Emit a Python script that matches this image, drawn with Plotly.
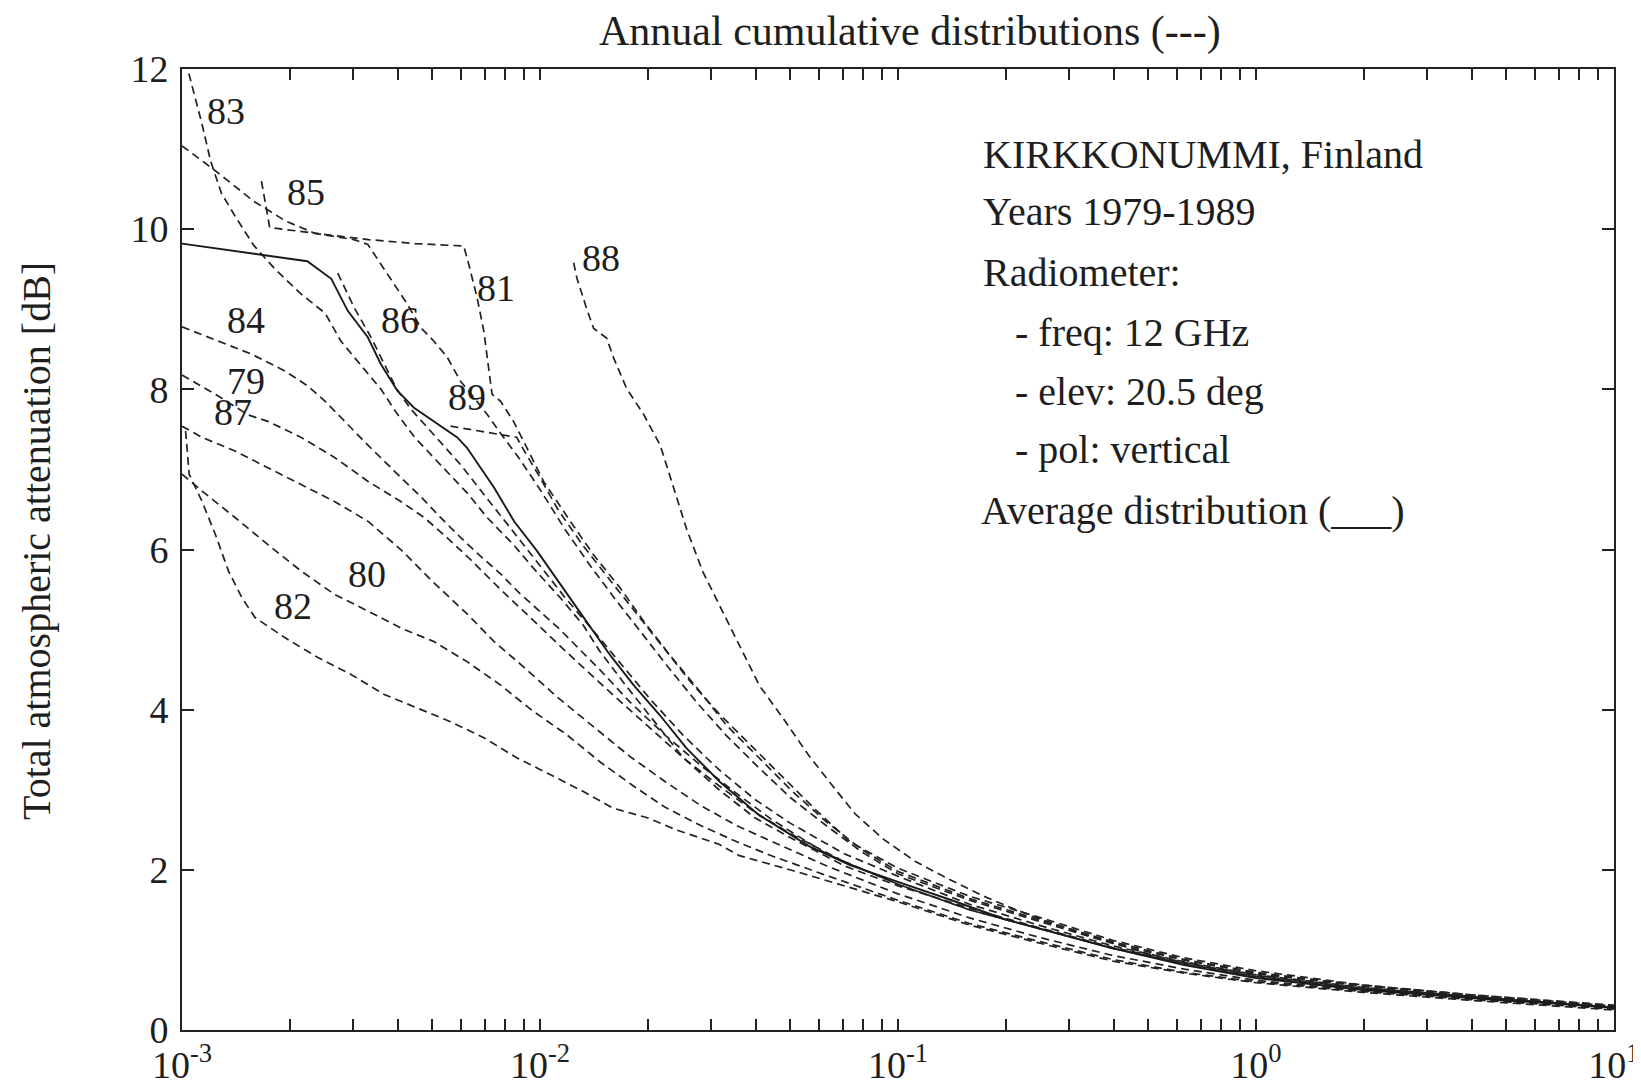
import plotly.graph_objects as go

# ---- data: time percentage given as log10(%), attenuation in dB ----
lg_avg = [-3.0, -2.76, -2.65, -2.583, -2.537, -2.481, -2.444, -2.398, -2.352, -2.231, -2.204, -2.128, -2.072, -2.008, -1.943, -1.87, -1.804, -1.739, -1.665, -1.591, -1.498, -1.387, -1.25, -1.134, -1.0, -0.85, -0.7, -0.55, -0.4, -0.2, 0.0, 0.3, 0.6, 1.0]
db_avg = [9.82, 9.67, 9.6, 9.38, 8.98, 8.65, 8.31, 7.98, 7.77, 7.4, 7.27, 6.77, 6.35, 5.98, 5.56, 5.1, 4.68, 4.31, 3.93, 3.52, 3.1, 2.68, 2.3, 2.06, 1.85, 1.62, 1.38, 1.2, 1.02, 0.81, 0.65, 0.5, 0.4, 0.28]

lg_83 = [-2.99, -2.944, -2.92, -2.89, -2.85, -2.8, -2.74, -2.67, -2.6, -2.556, -2.5, -2.444, -2.4, -2.35, -2.27, -2.2, -2.148, -2.074, -2.019, -1.944, -1.88, -1.833, -1.76, -1.68, -1.6, -1.5, -1.4, -1.3, -1.15, -1.0, -0.8, -0.6, -0.4, -0.2, 0.0, 0.3, 0.6, 1.0]
db_83 = [12.1, 11.31, 10.85, 10.45, 10.15, 9.8, 9.5, 9.2, 8.95, 8.6, 8.3, 8.0, 7.7, 7.4, 7.02, 6.69, 6.4, 6.06, 5.77, 5.4, 5.06, 4.73, 4.3, 3.85, 3.4, 3.0, 2.65, 2.4, 2.05, 1.8, 1.52, 1.27, 1.03, 0.84, 0.68, 0.52, 0.42, 0.29]

lg_81 = [-3.0, -2.907, -2.8, -2.71, -2.63, -2.48, -2.35, -2.213, -2.199, -2.176, -2.157, -2.144, -2.134, -2.11, -2.074, -2.04, -1.99, -1.915, -1.85, -1.776, -1.71, -1.637, -1.554, -1.48, -1.387, -1.295, -1.2, -1.1, -1.0, -0.8, -0.6, -0.4, -0.2, 0.0, 0.3, 0.6, 1.0]
db_81 = [11.04, 10.73, 10.35, 10.1, 9.95, 9.87, 9.82, 9.79, 9.56, 9.15, 8.73, 8.31, 7.94, 7.85, 7.6, 7.3, 6.85, 6.35, 5.93, 5.52, 5.1, 4.68, 4.23, 3.81, 3.39, 2.98, 2.6, 2.25, 1.98, 1.64, 1.37, 1.1, 0.88, 0.72, 0.55, 0.43, 0.3]

lg_85 = [-2.778, -2.755, -2.648, -2.52, -2.481, -2.444, -2.407, -2.37, -2.333, -2.296, -2.259, -2.222, -2.185, -2.148, -2.11, -2.06, -2.0, -1.93, -1.86, -1.79, -1.72, -1.64, -1.56, -1.48, -1.39, -1.3, -1.2, -1.1, -1.0, -0.8, -0.6, -0.4, -0.2, 0.0, 0.3, 0.6, 1.0]
db_85 = [10.6, 10.02, 9.96, 9.87, 9.81, 9.56, 9.31, 9.06, 8.77, 8.6, 8.4, 8.1, 7.9, 7.69, 7.45, 7.15, 6.75, 6.25, 5.8, 5.38, 4.98, 4.52, 4.08, 3.68, 3.28, 2.9, 2.55, 2.22, 1.95, 1.62, 1.35, 1.08, 0.87, 0.71, 0.54, 0.43, 0.29]

lg_86 = [-2.565, -2.519, -2.472, -2.435, -2.4, -2.36, -2.3, -2.22, -2.15, -2.08, -2.0, -1.93, -1.85, -1.77, -1.69, -1.6, -1.5, -1.4, -1.3, -1.15, -1.0, -0.8, -0.6, -0.4, -0.2, 0.0, 0.3, 0.6, 1.0]
db_86 = [9.45, 9.02, 8.65, 8.31, 8.0, 7.75, 7.45, 7.05, 6.65, 6.25, 5.8, 5.4, 4.98, 4.55, 4.12, 3.68, 3.25, 2.88, 2.58, 2.2, 1.92, 1.57, 1.3, 1.05, 0.85, 0.69, 0.53, 0.42, 0.28]

lg_89 = [-2.25, -2.111, -2.065, -2.04, -2.0, -1.95, -1.88, -1.81, -1.74, -1.66, -1.58, -1.5, -1.41, -1.32, -1.23, -1.134, -1.0, -0.8, -0.6, -0.4, -0.2, 0.0, 0.3, 0.6, 1.0]
db_89 = [7.54, 7.44, 7.4, 7.2, 6.9, 6.5, 6.05, 5.65, 5.25, 4.8, 4.35, 3.95, 3.55, 3.15, 2.75, 2.35, 2.02, 1.67, 1.4, 1.12, 0.9, 0.74, 0.56, 0.44, 0.3]

lg_88 = [-1.906, -1.897, -1.87, -1.85, -1.814, -1.794, -1.758, -1.711, -1.664, -1.628, -1.59, -1.545, -1.498, -1.443, -1.387, -1.322, -1.248, -1.174, -1.12, -1.04, -0.95, -0.856, -0.76, -0.67, -0.58, -0.486, -0.39, -0.3, -0.21, -0.116, 0.0, 0.3, 0.6, 1.0]
db_88 = [9.58, 9.39, 9.01, 8.76, 8.64, 8.39, 8.01, 7.69, 7.3, 6.8, 6.25, 5.72, 5.3, 4.8, 4.3, 3.9, 3.42, 3.0, 2.7, 2.38, 2.1, 1.88, 1.67, 1.5, 1.35, 1.21, 1.08, 0.95, 0.85, 0.77, 0.7, 0.56, 0.44, 0.31]

lg_84 = [-3.0, -2.898, -2.806, -2.713, -2.648, -2.6, -2.546, -2.48, -2.407, -2.333, -2.278, -2.222, -2.167, -2.111, -2.056, -2.0, -1.944, -1.889, -1.833, -1.75, -1.65, -1.55, -1.45, -1.35, -1.2, -1.0, -0.8, -0.6, -0.4, -0.2, 0.0, 0.3, 0.6, 1.0]
db_84 = [8.78, 8.6, 8.44, 8.23, 8.04, 7.85, 7.6, 7.3, 6.98, 6.66, 6.4, 6.15, 5.92, 5.7, 5.45, 5.22, 5.0, 4.75, 4.5, 4.1, 3.68, 3.3, 2.95, 2.62, 2.2, 1.82, 1.5, 1.26, 1.02, 0.83, 0.67, 0.52, 0.41, 0.28]

lg_79 = [-3.0, -2.9, -2.815, -2.76, -2.667, -2.574, -2.48, -2.389, -2.324, -2.27, -2.2, -2.11, -2.02, -1.926, -1.8, -1.7, -1.6, -1.5, -1.4, -1.3, -1.15, -1.0, -0.8, -0.6, -0.4, -0.2, 0.0, 0.3, 0.6, 1.0]
db_79 = [8.18, 7.92, 7.68, 7.6, 7.4, 7.15, 6.85, 6.6, 6.4, 6.19, 5.9, 5.5, 5.12, 4.72, 4.2, 3.8, 3.4, 3.05, 2.72, 2.45, 2.1, 1.82, 1.5, 1.26, 1.02, 0.82, 0.66, 0.51, 0.41, 0.28]

lg_87 = [-3.0, -2.944, -2.852, -2.76, -2.667, -2.574, -2.48, -2.389, -2.3, -2.2, -2.128, -2.05, -1.95, -1.85, -1.75, -1.65, -1.55, -1.45, -1.35, -1.2, -1.0, -0.8, -0.6, -0.4, -0.2, 0.0, 0.3, 0.6, 1.0]
db_87 = [7.54, 7.4, 7.23, 7.02, 6.81, 6.6, 6.35, 6.0, 5.6, 5.18, 4.85, 4.55, 4.15, 3.78, 3.42, 3.1, 2.8, 2.55, 2.35, 2.05, 1.7, 1.4, 1.15, 0.93, 0.76, 0.62, 0.49, 0.39, 0.27]

lg_80 = [-3.0, -2.944, -2.852, -2.76, -2.667, -2.574, -2.48, -2.389, -2.296, -2.204, -2.111, -2.019, -1.926, -1.833, -1.74, -1.65, -1.55, -1.45, -1.35, -1.2, -1.0, -0.8, -0.6, -0.4, -0.2, 0.0, 0.3, 0.6, 1.0]
db_80 = [6.94, 6.73, 6.4, 6.06, 5.73, 5.44, 5.23, 5.02, 4.85, 4.6, 4.31, 3.98, 3.69, 3.35, 3.05, 2.78, 2.55, 2.35, 2.17, 1.93, 1.62, 1.33, 1.1, 0.88, 0.72, 0.6, 0.48, 0.38, 0.26]

lg_82 = [-2.99, -2.98, -2.944, -2.907, -2.87, -2.833, -2.796, -2.713, -2.62, -2.528, -2.435, -2.343, -2.25, -2.157, -2.065, -1.972, -1.88, -1.796, -1.7, -1.62, -1.5, -1.445, -1.27, -1.0, -0.8, -0.6, -0.4, -0.2, 0.0, 0.3, 0.6, 1.0]
db_82 = [7.48, 6.94, 6.6, 6.19, 5.73, 5.4, 5.15, 4.9, 4.65, 4.44, 4.19, 4.02, 3.85, 3.65, 3.4, 3.19, 2.98, 2.77, 2.65, 2.5, 2.32, 2.18, 1.96, 1.6, 1.31, 1.08, 0.86, 0.71, 0.59, 0.47, 0.37, 0.25]

years = ["79", "80", "81", "82", "83", "84", "85", "86", "87", "88", "89"]
year_lg = [lg_79, lg_80, lg_81, lg_82, lg_83, lg_84, lg_85, lg_86, lg_87, lg_88, lg_89]
year_db = [db_79, db_80, db_81, db_82, db_83, db_84, db_85, db_86, db_87, db_88, db_89]

# curve labels (log10 % , dB)
label_text = ["83", "85", "84", "79", "87", "86", "81", "89", "88", "80", "82"]
label_lg = [-2.876, -2.655, -2.822, -2.822, -2.857, -2.391, -2.122, -2.204, -1.83, -2.483, -2.691]
label_db = [11.47, 10.47, 8.86, 8.1, 7.72, 8.86, 9.27, 7.9, 9.64, 5.7, 5.3]

x_tick_vals = [m * 10.0 ** k for k in range(-3, 1) for m in range(1, 10)] + [10.0]
x_tick_text = ["10<sup>%d</sup>" % k if m == 1 else "" for k in range(-3, 1) for m in range(1, 10)] + ["10<sup>1</sup>"]
y_tick_vals = [0, 2, 4, 6, 8, 10, 12]

info_lines = ["KIRKKONUMMI, Finland", "Years 1979-1989", "Radiometer:",
              "- freq: 12 GHz", "- elev: 20.5 deg", "- pol: vertical",
              "Average distribution (___)"]

# ---- figure (page body has an 8 px margin, so sizes/margins are offset by it) ----
BODY = 8
W, H = 1641 - BODY, 1084 - BODY
PL, PR, PT, PB = 182, 1614, 69, 1030          # plot frame in page pixels
L, R, T, B = PL - BODY, W - (PR - BODY), PT - BODY, H - (PB - BODY)
FONT = "Liberation Serif, Times New Roman, serif"
INK = "#1e1e1e"

fig = go.Figure()
for name, lg, db in zip(years, year_lg, year_db):
    fig.add_trace(go.Scatter(
        x=[10 ** v for v in lg], y=db, mode="lines", name="19" + name,
        line=dict(color="#222222", width=1.7, dash="8px,5px"), showlegend=False))
fig.add_trace(go.Scatter(
    x=[10 ** v for v in lg_avg], y=db_avg, mode="lines", name="Average",
    line=dict(color="#1a1a1a", width=1.9), showlegend=False))

annotations = []
for t, lx, ly in zip(label_text, label_lg, label_db):
    annotations.append(dict(x=lx, y=ly, xref="x", yref="y", text=t, showarrow=False,
                            font=dict(family=FONT, size=38, color=INK),
                            xanchor="center", yanchor="middle"))

pw = PR - PL
ph = PB - PT
def px(x):
    return (x - PL) / pw
def py(y):
    return (PB - y) / ph

info_x = [981, 981, 981, 1013, 1013, 1013, 979]
info_y = [154, 212, 272, 332, 391, 450, 511]
for t, xx, yy in zip(info_lines, info_x, info_y):
    annotations.append(dict(x=px(xx), y=py(yy), xref="paper", yref="paper",
                            text=t, showarrow=False, xanchor="left", yanchor="middle",
                            font=dict(family=FONT, size=40, color=INK)))

annotations.append(dict(x=px(910), y=py(31), xref="paper", yref="paper",
                        text="Annual cumulative distributions (---)", showarrow=False,
                        xanchor="center", yanchor="middle",
                        font=dict(family=FONT, size=42, color=INK)))
annotations.append(dict(x=px(36), y=py(541), xref="paper", yref="paper",
                        text="Total atmospheric attenuation [dB]", showarrow=False,
                        textangle=-90, xanchor="center", yanchor="middle",
                        font=dict(family=FONT, size=40, color=INK)))

fig.update_layout(
    width=W, height=H,
    margin=dict(l=L, r=R, t=T, b=B, autoexpand=False),
    paper_bgcolor="white", plot_bgcolor="white",
    font=dict(family=FONT, color=INK),
    annotations=annotations,
    showlegend=False,
)
fig.update_xaxes(type="log", range=[-3, 1], tickmode="array",
                 tickvals=x_tick_vals, ticktext=x_tick_text,
                 ticks="inside", ticklen=11, tickwidth=1.5, tickcolor="#222",
                 showline=True, linecolor="#222", linewidth=2, mirror="ticks",
                 showgrid=False, zeroline=False, ticklabeloverflow="allow",
                 tickfont=dict(family=FONT, size=38, color=INK), ticklabelstandoff=0)
fig.update_yaxes(range=[0, 12], tickmode="array", tickvals=y_tick_vals,
                 ticks="inside", ticklen=12, tickwidth=1.5, tickcolor="#222",
                 showline=True, linecolor="#222", linewidth=2, mirror="ticks",
                 showgrid=False, zeroline=False,
                 tickfont=dict(family=FONT, size=38, color=INK), ticklabelstandoff=4)

fig.write_html("out.html")
